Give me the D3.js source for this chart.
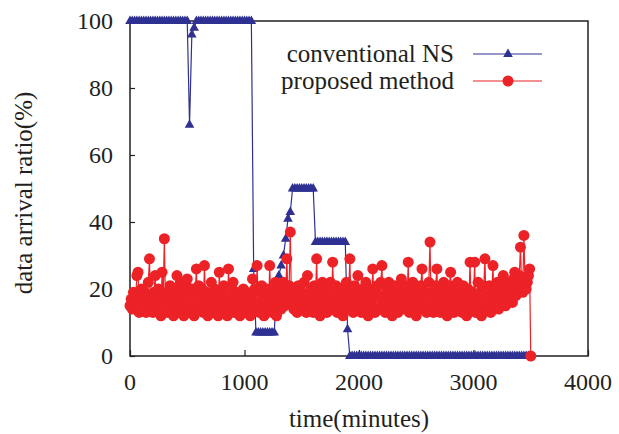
<!DOCTYPE html>
<html lang="en">
  <head>
    <meta charset="UTF-8" />
    <title>data arrival ratio</title>
    <script src="https://d3js.org/d3.v7.min.js"></script>
    <style>
      body { margin: 0; background: white; }
    </style>
  </head>
  <body>
    <div id="chart"></div>

    <script>
      // ----------- Data ----------- //

      var seriesNames = ["conventional NS", "proposed method"];
      var xTicks = [0, 1000, 2000, 3000, 4000];
      var yTicks = [0, 20, 40, 60, 80, 100];

      // conventional NS, one sample every 20 minutes from 0
      var nsStep = 20;
      var nsValues = [
        100,100,100,100,100,100,100,100,100,100,
        100,100,100,100,100,100,100,100,100,100,
        100,100,100,100,100,100,69,96,98,100,
        100,100,100,100,100,100,100,100,100,100,
        100,100,100,100,100,100,100,100,100,100,
        100,100,100,100,26,7,7,7,7,7,
        7,7,7,7,21,24,27,30,35,41,
        43,50,50,50,50,50,50,50,50,50,
        50,34,34,34,34,34,34,34,34,34,
        34,34,34,34,34,8,0,0,0,0,
        0,0,0,0,0,0,0,0,0,0,
        0,0,0,0,0,0,0,0,0,0,
        0,0,0,0,0,0,0,0,0,0,
        0,0,0,0,0,0,0,0,0,0,
        0,0,0,0,0,0,0,0,0,0,
        0,0,0,0,0,0,0,0,0,0,
        0,0,0,0,0,0,0,0,0,0,
        0,0,0,0,0,0
      ];

      // proposed method, one sample every 10 minutes from 0, then the final drop
      var pmStep = 10;
      var pmValues = [
        15,17,14,19,16,18,24,25,13,17,
        20,14,16,19,13,18,22,29,15,17,
        13,19,24,16,14,20,17,12,25,18,
        35,15,19,13,17,21,14,18,12,20,
        16,24,13,18,22,15,19,12,17,21,
        23,14,18,13,20,16,12,19,26,15,
        21,14,17,20,13,27,16,19,12,18,
        15,22,13,17,20,14,18,12,25,16,
        19,13,21,15,17,12,26,18,14,20,
        22,13,16,19,14,18,12,17,15,20,
        13,16,19,14,18,12,17,23,15,20,
        14,27,16,13,19,21,15,12,18,16,
        20,14,27,17,13,19,15,22,12,18,
        16,20,14,18,22,15,19,29,17,21,
        37,16,19,14,20,17,13,21,18,15,
        19,14,22,17,13,24,18,15,20,16,
        13,21,17,29,15,19,12,18,22,14,
        17,20,13,19,16,22,14,28,18,15,
        21,13,17,19,15,20,12,18,16,22,
        14,19,29,15,18,13,21,16,17,24,
        15,19,13,20,17,14,22,18,12,16,
        20,15,26,18,13,19,21,14,17,22,
        27,15,18,13,20,16,22,14,19,12,
        17,21,15,18,13,20,16,23,14,19,
        15,21,17,28,13,19,16,22,14,18,
        12,20,17,15,21,26,14,18,19,13,
        16,22,34,15,19,13,17,21,26,15,
        18,13,20,16,22,14,19,12,17,21,
        25,15,18,13,20,17,22,14,16,19,
        13,21,15,18,12,20,17,28,14,19,
        16,28,13,17,22,15,19,12,18,21,
        29,14,18,16,21,13,19,27,15,20,
        17,22,14,19,16,21,24,18,15,20,
        22,17,21,19,16,23,25,18,22,20,
        24,32.5,21,19,36,23,20,22,24,26,
        0
      ];

      var nsData = nsValues.map((v, i) => [i * nsStep, v]);
      var pmData = pmValues.map((v, i) => [i * pmStep, v]);

      // ----------- Basic Variables ----------- //

      var width = 619;
      var height = 434;
      var margin = {left: 130, top: 21, right: 31, bottom: 78};
      var plotW = width - margin.left - margin.right;
      var plotH = height - margin.top - margin.bottom;

      var font = "Liberation Serif";
      var ink = "#231f20";
      var blue = "#2e3192";
      var red = "#ec2227";

      var svg = d3.select("#chart")
        .append("svg")
        .attr("width", width)
        .attr("height", height)
        .attr("font-family", font);

      var xScale = d3.scaleLinear().domain([0, 4000]).range([margin.left, margin.left + plotW]);
      var yScale = d3.scaleLinear().domain([0, 100]).range([margin.top + plotH, margin.top]);

      function addText(x, y, str, size, anchor) {
        return svg.append("text")
          .attr("x", x)
          .attr("y", y)
          .attr("text-anchor", anchor)
          .attr("font-family", font)
          .attr("font-size", size)
          .style("font-family", font)
          .attr("fill", ink)
          .text(str);
      }

      // ----------- Frame & Axes ----------- //

      svg.append("rect")
        .attr("x", margin.left)
        .attr("y", margin.top)
        .attr("width", plotW)
        .attr("height", plotH)
        .attr("fill", "none")
        .attr("stroke", ink)
        .attr("stroke-width", 1.5);

      var xAxis = d3.axisBottom(xScale).tickValues(xTicks).tickFormat("")
        .tickSizeInner(-6).tickSizeOuter(0);
      var gx = svg.append("g")
        .attr("transform", "translate(0," + (margin.top + plotH) + ")")
        .call(xAxis);
      gx.select(".domain").remove();
      gx.selectAll("line").attr("stroke", ink).attr("stroke-width", 1.2);
      gx.selectAll("text").remove();

      var yAxis = d3.axisLeft(yScale).tickValues(yTicks).tickFormat("")
        .tickSizeInner(-5).tickSizeOuter(0);
      var gy = svg.append("g")
        .attr("transform", "translate(" + margin.left + ",0)")
        .call(yAxis);
      gy.select(".domain").remove();
      gy.selectAll("line").attr("stroke", ink).attr("stroke-width", 1.2);
      gy.selectAll("text").remove();

      xTicks.forEach(t => addText(xScale(t), margin.top + plotH + 34, d3.format("d")(t), 24, "middle"));
      yTicks.forEach(t => addText(margin.left - 17, yScale(t) + 8, d3.format("d")(t), 24, "end"));

      addText(margin.left + plotW / 2, 427, "time(minutes)", 25, "middle");

      svg.append("text")
        .attr("transform", "translate(32," + 193 + ") rotate(-90)")
        .attr("text-anchor", "middle")
        .attr("font-family", font)
        .attr("font-size", 25)
        .attr("fill", ink)
        .text("data arrival ratio(%)");

      // ----------- Series ----------- //

      var line = d3.line().x(d => xScale(d[0])).y(d => yScale(d[1]));
      var triPath = "M0,-5.5L4.8,3L-4.8,3Z";

      svg.append("path")
        .datum(nsData)
        .attr("d", line)
        .attr("fill", "none")
        .attr("stroke", blue)
        .attr("stroke-width", 1.2);

      svg.append("g").selectAll("path")
        .data(nsData)
        .enter()
        .append("path")
          .attr("d", triPath)
          .attr("transform", d => "translate(" + xScale(d[0]) + "," + yScale(d[1]) + ")")
          .attr("fill", blue);

      svg.append("path")
        .datum(pmData)
        .attr("d", line)
        .attr("fill", "none")
        .attr("stroke", red)
        .attr("stroke-width", 1.2);

      svg.append("g").selectAll("circle")
        .data(pmData)
        .enter()
        .append("circle")
          .attr("cx", d => xScale(d[0]))
          .attr("cy", d => yScale(d[1]))
          .attr("r", 5.5)
          .attr("fill", red);

      // ----------- Legend ----------- //

      var legendRows = [
        {name: seriesNames[0], color: blue, y: 54, shape: "tri"},
        {name: seriesNames[1], color: red, y: 81, shape: "dot"}
      ];
      legendRows.forEach(function(r) {
        addText(454, r.y + 8, r.name, 25, "end");
        svg.append("line")
          .attr("x1", 473).attr("x2", 542)
          .attr("y1", r.y).attr("y2", r.y)
          .attr("stroke", r.color)
          .attr("stroke-width", 1.2);
        if (r.shape == "tri") {
          svg.append("path")
            .attr("d", triPath)
            .attr("transform", "translate(508," + r.y + ")")
            .attr("fill", r.color);
        } else {
          svg.append("circle")
            .attr("cx", 508).attr("cy", r.y).attr("r", 5.5)
            .attr("fill", r.color);
        }
      });
    </script>
  </body>
</html>
